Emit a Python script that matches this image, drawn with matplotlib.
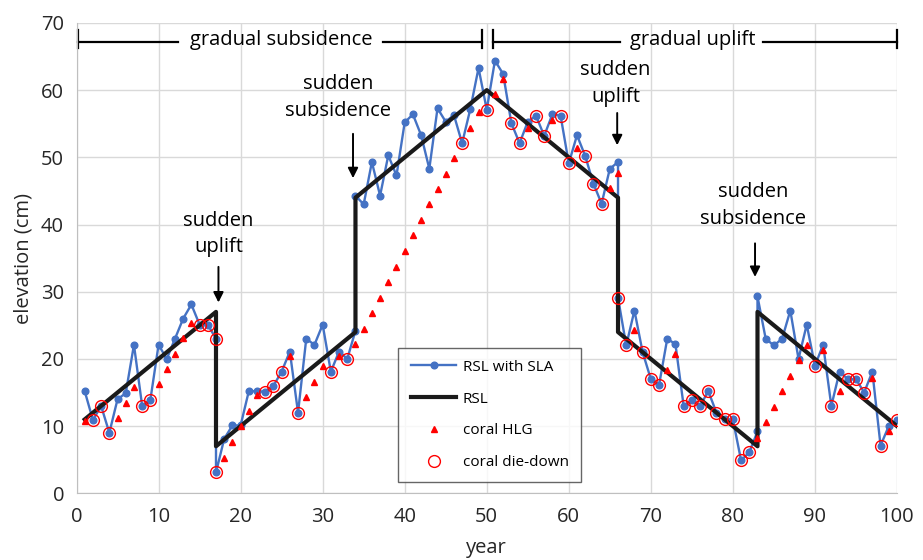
#!/usr/bin/env python3
"""Coral microatoll model: RSL, sea-level anomaly, HLG and die-downs."""

import matplotlib
matplotlib.use("Agg")
import matplotlib.pyplot as plt

# RSL with sea level anomaly (jump years appear twice: before / after)
sla_year = [1, 2, 3, 4, 5, 6, 7, 8, 9, 10, 11, 12, 13, 14, 15, 16, 17, 17,
            18, 19, 20, 21, 22, 23, 24, 25, 26, 27, 28, 29, 30, 31, 32, 33, 34, 34,
            35, 36, 37, 38, 39, 40, 41, 42, 43, 44, 45, 46, 47, 48, 49, 50,
            51, 52, 53, 54, 55, 56, 57, 58, 59, 60, 61, 62, 63, 64, 65, 66, 66,
            67, 68, 69, 70, 71, 72, 73, 74, 75, 76, 77, 78, 79, 80, 81, 82, 83, 83,
            84, 85, 86, 87, 88, 89, 90, 91, 92, 93, 94, 95, 96, 97, 98, 99, 100]
sla_elev = [15.2, 10.9, 13.0, 9.0, 14.0, 14.9, 22.1, 13.0, 13.9, 22.1, 20.0, 23.0,
            26.0, 28.1, 25.1, 25.1, 23.0, 3.1,
            8.1, 10.1, 10.1, 15.2, 15.2, 15.1, 16.0, 18.1, 21.1, 12.0, 23.0, 22.1,
            25.1, 18.1, 21.1, 20.0, 24.2, 44.3,
            43.0, 49.3, 44.3, 50.3, 47.3, 55.2, 56.4, 53.3, 48.3, 57.3, 55.3, 56.3,
            52.1, 57.2, 63.3, 57.1,
            64.4, 62.4, 55.1, 52.1, 55.3, 56.2, 53.2, 56.4, 56.2, 49.1, 53.3, 50.2,
            46.1, 43.1, 48.3, 49.3, 29.1,
            22.0, 27.2, 21.0, 17.0, 16.1, 23.0, 22.2, 13.0, 13.9, 13.0, 15.2, 12.0,
            11.0, 11.0, 4.9, 6.1, 9.2, 29.3,
            23.0, 22.0, 23.0, 27.2, 20.0, 25.1, 19.0, 22.1, 13.0, 18.1, 17.0, 17.0,
            15.0, 18.1, 7.1, 10.0, 10.9]

# RSL (piecewise linear)
rsl_year = [1, 17, 17, 34, 34, 50, 66, 66, 83, 83, 100]
rsl_elev = [11, 27, 7, 24, 44, 60, 44, 24, 7, 27, 10]

# coral highest level of growth
hlg_year = [1, 5, 6, 7, 10, 11, 12, 13, 14, 18, 19, 20, 21, 22, 26, 28, 29, 30, 32,
            34, 35, 36, 37, 38, 39, 40, 41, 42, 43, 44, 45, 46, 48, 49, 51, 52,
            55, 58, 61, 65, 66, 68, 72, 73, 83, 84, 85, 86, 87, 88, 89, 91, 93, 97, 99]
hlg_elev = [10.8, 11.2, 13.5, 15.8, 16.2, 18.5, 20.8, 23.1, 25.4, 5.3, 7.7, 10.0,
            12.3, 14.6, 20.4, 14.3, 16.6, 18.9, 20.4,
            22.2, 24.5, 26.9, 29.1, 31.4, 33.7, 36.1, 38.4, 40.7, 43.0, 45.3, 47.5,
            49.9, 54.3, 56.7, 59.4, 61.7,
            54.3, 55.5, 51.4, 45.4, 47.6, 24.3, 18.4, 20.7, 8.3, 10.6, 12.9, 15.2,
            17.5, 19.9, 22.1, 21.3, 15.3, 17.2, 9.3]

# coral die-down events
die_year = [2, 3, 4, 8, 9, 15, 16, 17, 17, 23, 24, 25, 27, 31, 33, 47, 50, 53, 54,
            56, 57, 59, 60, 62, 63, 64, 66, 67, 69, 70, 71, 74, 75, 76, 77, 78, 79,
            80, 81, 82, 90, 92, 94, 95, 96, 98, 100]
die_elev = [10.9, 13.0, 9.0, 13.0, 13.9, 25.1, 25.1, 23.0, 3.1, 15.1, 16.0, 18.1,
            12.0, 18.1, 20.0, 52.1, 57.1, 55.1, 52.1, 56.2, 53.2, 56.2, 49.1, 50.2,
            46.1, 43.1, 29.1, 22.0, 21.0, 17.0, 16.1, 13.0, 13.9, 13.0, 15.2, 12.0,
            11.0, 11.0, 4.9, 6.1, 19.0, 13.0, 17.0, 17.0, 15.0, 7.1, 10.9]


def main() -> None:
    plt.rcParams["font.family"] = ["Open Sans", "DejaVu Sans"]
    fig = plt.figure(figsize=(9.23, 5.6), dpi=100)
    ax = fig.add_axes([0.0829, 0.1191, 0.8889, 0.8399])

    ax.plot(sla_year, sla_elev, color="#4472C4", lw=1.7, marker="o", ms=4.8,
            label="RSL with SLA", zorder=2)
    ax.plot(rsl_year, rsl_elev, color="#1a1a1a", lw=3.0, label="RSL", zorder=3)
    ax.plot(hlg_year, hlg_elev, ls="none", marker="^", ms=4, color="#FF0000",
            mec="#FF0000", label="coral HLG", zorder=4)
    ax.plot(die_year, die_elev, ls="none", marker="o", ms=8.5, mfc="none",
            mec="#FF0000", mew=1.0, label="coral die-down", zorder=5)

    ax.set_xlim(0, 100)
    ax.set_ylim(0, 70)
    ax.set_xticks(range(0, 101, 10))
    ax.set_yticks(range(0, 71, 10))
    ax.grid(True, color="#d9d9d9", lw=1.0, zorder=0)
    ax.set_axisbelow(True)
    for side in ("top", "right"):
        ax.spines[side].set_visible(False)
    for side in ("left", "bottom"):
        ax.spines[side].set_color("#bfbfbf")
    ax.tick_params(length=0, labelsize=14.5, colors="#262626")
    ax.tick_params(axis="x", pad=10)
    ax.tick_params(axis="y", pad=9)
    ax.set_xlabel("year", fontsize=14.5, color="#262626", labelpad=8)
    ax.set_ylabel("elevation (cm)", fontsize=14.5, color="#262626", labelpad=5)

    # period brackets along the top
    kw = dict(color="black", lw=1.6, clip_on=False)
    for x0, x1, t0, t1, xt, txt in [(0.2, 49.4, 12.4, 37.3, 25.0, "gradual subsidence"),
                                    (50.8, 100.0, 66.3, 83.7, 75.1, "gradual uplift")]:
        ax.plot([x0, t0], [67.2, 67.2], **kw)
        ax.plot([t1, x1], [67.2, 67.2], **kw)
        ax.plot([x0, x0], [66.2, 68.9], **kw)
        ax.plot([x1, x1], [66.2, 68.9], **kw)
        ax.text(xt, 67.4, txt, ha="center", va="center", fontsize=14.5)

    # sudden events
    events = [(17.3, 38.6, 33.7, 28.4, "sudden\nuplift"),
              (31.9, 58.9, 53.5, 46.9, "sudden\nsubsidence"),
              (65.7, 61.0, 56.6, 51.8, "sudden\nuplift"),
              (82.5, 42.8, 37.2, 32.2, "sudden\nsubsidence")]
    arrow_x = [17.3, 33.7, 65.9, 82.7]
    for (xt, yt, ya, yb, txt), xa in zip(events, arrow_x):
        ax.text(xt, yt, txt, ha="center", va="center", fontsize=14.5, linespacing=1.45)
        ax.annotate("", xy=(xa, yb), xytext=(xa, ya),
                    arrowprops=dict(arrowstyle="-|>", color="black", lw=1.4,
                                    mutation_scale=15, shrinkA=0, shrinkB=0))

    leg = ax.legend(loc="lower left", bbox_to_anchor=(0.383, 0.007), fontsize=11,
                    frameon=True, fancybox=False, edgecolor="#404040",
                    handlelength=3.0, labelspacing=1.1, borderpad=0.8,
                    handletextpad=0.4)
    leg.get_frame().set_linewidth(1.0)

    fig.savefig("out.png", dpi=100)
    plt.close(fig)


if __name__ == "__main__":
    main()
